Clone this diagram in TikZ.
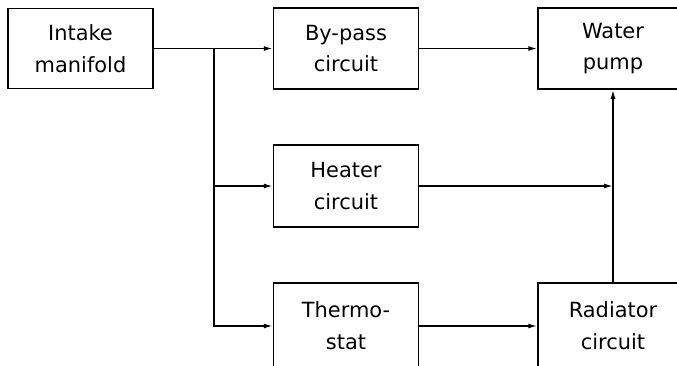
\documentclass[tikz,border=0pt]{standalone}
\usepackage{fontspec}
\setmainfont{DejaVu Sans}
\usetikzlibrary{arrows.meta}
\begin{document}
\begin{tikzpicture}[x=1bp,y=-1bp,
  blk/.style={draw,line width=1.5bp,inner sep=0pt,align=center,
    font=\fontsize{21}{32}\selectfont},
  conn/.style={line width=1.5bp},
  arr/.style={conn,-{Latex[length=9bp,width=5bp]}}]
\useasboundingbox (0,0) rectangle (677,365);
\clip (0,0) rectangle (677,365);
\node[blk,minimum width=145bp,minimum height=80bp] (intake) at (80.5,48.5) {Intake\\manifold};
\node[blk,minimum width=145bp,minimum height=81bp] (bypass) at (346,48.5) {By-pass\\circuit};
\node[blk,minimum width=150bp,minimum height=81bp] (water) at (613,48.5) {Water\\pump};
\node[blk,minimum width=145bp,minimum height=82bp] (heater) at (346,186) {Heater\\circuit};
\node[blk,minimum width=145bp,minimum height=86bp] (thermo) at (346,326) {Thermo-\\stat};
\node[blk,minimum width=150bp,minimum height=86bp] (radiator) at (613,326) {Radiator\\circuit};
\coordinate (j1) at (214,48.5);
\draw[arr] (intake.east) -- (bypass.west);
\draw[arr] (j1) |- (thermo.west);
\draw[arr] (j1 |- heater.west) -- (heater.west);
\draw[arr] (bypass.east) -- (water.west);
\draw[arr] (heater.east) -- (water.south |- heater.east);
\draw[arr] (thermo.east) -- (radiator.west);
\draw[arr] (radiator.north) -- (water.south);
\end{tikzpicture}
\end{document}
